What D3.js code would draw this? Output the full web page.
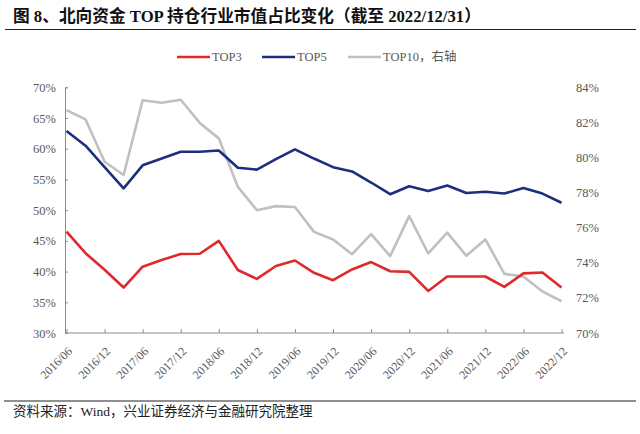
<!DOCTYPE html>
<html><head><meta charset="utf-8">
<script src="https://cdn.jsdelivr.net/npm/d3@7"></script>
<style>
html,body{margin:0;padding:0;background:#fff;}
svg{display:block;}
</style></head>
<body><svg id="c" width="640" height="434"></svg>
<script>
const categories = ["2016/06","2016/09","2016/12","2017/03","2017/06","2017/09","2017/12","2018/03","2018/06","2018/09","2018/12","2019/03","2019/06","2019/09","2019/12","2020/03","2020/06","2020/09","2020/12","2021/03","2021/06","2021/09","2021/12","2022/03","2022/06","2022/09","2022/12"];
const tickLabels = ["2016/06","2016/12","2017/06","2017/12","2018/06","2018/12","2019/06","2019/12","2020/06","2020/12","2021/06","2021/12","2022/06","2022/12"];
const top3 = [46.5,43.0,40.3,37.4,40.8,41.9,42.85,42.9,45.0,40.25,38.8,40.9,41.8,39.8,38.6,40.35,41.55,40.05,39.95,36.85,39.2,39.2,39.2,37.5,39.7,39.85,37.4];
const top5 = [62.9,60.5,57.0,53.55,57.3,58.4,59.5,59.5,59.7,56.9,56.6,58.3,59.9,58.4,57.0,56.3,54.5,52.6,53.9,53.1,54.0,52.8,53.0,52.7,53.6,52.7,51.2];
const top10 = [82.7,82.17,79.76,79.0,83.26,83.12,83.29,81.97,81.09,78.33,77.0,77.23,77.18,75.76,75.33,74.49,75.63,74.38,76.66,74.53,75.72,74.4,75.33,73.37,73.22,72.37,71.81];
const leftTicks = [30,35,40,45,50,55,60,65,70];
const rightTicks = [70,72,74,76,78,80,82,84];
const seriesNames = ["TOP3","TOP5","TOP10，右轴"];
const colors = ["#DF2A2D","#1C2F7E","#C0C0C0"];

const svg = d3.select("#c");
const serif = "'Times New Roman','Liberation Serif','Noto Sans CJK SC',serif";
const cjk = "'Liberation Serif','Noto Sans CJK SC',serif";
const axisColor = "#8C8C8C", textColor = "#595959";

// title
svg.append("text").attr("x",13).attr("y",22).attr("font-family",cjk).attr("font-weight","bold")
  .attr("font-size",16.7).attr("fill","#111").text("图 8、北向资金 TOP 持仓行业市值占比变化（截至 2022/12/31）");
svg.append("line").attr("x1",5).attr("x2",636).attr("y1",29.5).attr("y2",29.5).attr("stroke","#222").attr("stroke-width",1.2);

const x = d3.scalePoint().domain(categories).range([66.5,561.5]);
const yL = d3.scaleLinear().domain([30,70]).range([333,87.3]);
const yR = d3.scaleLinear().domain([70,84]).range([333,87.3]);

// left axis
const gL = svg.append("g").attr("transform","translate(65,0)")
  .call(d3.axisLeft(yL).tickValues(leftTicks).tickSize(-3).tickPadding(9).tickFormat(d=>d+"%"));
gL.select(".domain").attr("stroke",axisColor);
gL.selectAll(".tick line").attr("stroke",axisColor);
gL.selectAll(".tick text").attr("font-family",serif).attr("font-size",12.5).attr("fill",textColor);

// right axis (labels only)
const gR = svg.append("g").attr("transform","translate(564,0)")
  .call(d3.axisRight(yR).tickValues(rightTicks).tickSize(0).tickPadding(12).tickFormat(d=>d+"%"));
gR.select(".domain").remove();
gR.selectAll(".tick text").attr("font-family",serif).attr("font-size",12.5).attr("fill",textColor);

// bottom axis
const gB = svg.append("g").attr("transform","translate(0,333)");
gB.append("line").attr("x1",65).attr("x2",564).attr("y1",0).attr("y2",0).attr("stroke",axisColor);
const gx = gB.append("g")
  .call(d3.axisBottom(x).tickValues(tickLabels).tickSize(-4).tickPadding(0));
gx.select(".domain").remove();
gx.selectAll(".tick line").attr("stroke",axisColor);
gx.selectAll(".tick text").attr("font-family",serif).attr("font-size",12).attr("fill",textColor)
  .attr("text-anchor","end").attr("transform","translate(3,16) rotate(-45)").attr("dy","0.35em").attr("y",0);

// lines
const lineL = d3.line().x((d,i)=>x(categories[i])).y(d=>yL(d));
const lineR = d3.line().x((d,i)=>x(categories[i])).y(d=>yR(d));
svg.append("path").datum(top10).attr("d",lineR).attr("fill","none").attr("stroke",colors[2]).attr("stroke-width",2.6).attr("stroke-linejoin","round");
svg.append("path").datum(top5).attr("d",lineL).attr("fill","none").attr("stroke",colors[1]).attr("stroke-width",2.6).attr("stroke-linejoin","round");
svg.append("path").datum(top3).attr("d",lineL).attr("fill","none").attr("stroke",colors[0]).attr("stroke-width",2.6).attr("stroke-linejoin","round");

// legend
const legX = [177,262,348];
seriesNames.forEach((n,i)=>{
  const g = svg.append("g").attr("transform",`translate(${legX[i]},57)`);
  g.append("line").attr("x1",0).attr("x2",33).attr("y1",0).attr("y2",0).attr("stroke",colors[i]).attr("stroke-width",2.6);
  g.append("text").attr("x",35).attr("y",0).attr("dy","0.35em").attr("font-family",cjk).attr("font-size",12.5).attr("fill",textColor).text(n);
});

// source
svg.append("line").attr("x1",4).attr("x2",636).attr("y1",401).attr("y2",401).attr("stroke","#222").attr("stroke-width",1.2);
svg.append("text").attr("x",13).attr("y",411).attr("dy","0.35em").attr("font-family",cjk).attr("font-size",13.5).attr("fill","#222")
  .text("资料来源：Wind，兴业证券经济与金融研究院整理");
</script></body></html>
